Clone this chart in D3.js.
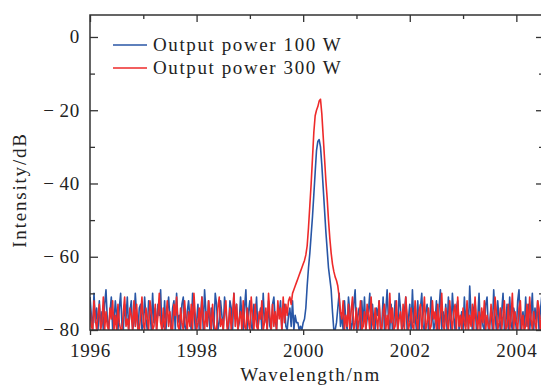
<!DOCTYPE html>
<html>
<head>
<meta charset="utf-8">
<script src="https://cdn.jsdelivr.net/npm/d3@7"></script>
<style>
    html, body { margin: 0; padding: 0; background: #fff; }
    svg { display: block; }
    text { font-family: "Liberation Serif", "Times New Roman", serif; fill: #222; }
</style>
</head>
<body>
<svg class="chart"></svg>
<script>
// spectrum sampled on a uniform wavelength grid (nm)
const startNm = 1996;
const stepNm = 0.025;

const seriesNames = [`Output power 100 W`, `Output power 300 W`];

// 100 W: noise floor, peak (1999.90 .. 2000.625), noise floor
const blueValues = [
    -71, -76, -80, -70, -78, -74, -80, -72, -79, -75,
    -80, -73, -69, -77, -80, -75, -71, -80, -78, -72,
    -76, -80, -74, -70, -79, -80, -73, -77, -71, -80,
    -75, -72, -80, -78, -70, -76, -80, -74, -73, -80,
    -79, -71, -77, -80, -72, -75, -80, -70, -78, -74,
    -80, -73, -76, -69, -80, -79, -72, -80, -75, -71,
    -77, -80, -74, -72, -80, -70, -78, -76, -80, -73,
    -71, -79, -80, -75, -72, -77, -80, -70, -74, -80,
    -78, -73, -80, -76, -71, -80, -69, -75, -79, -72,
    -80, -74, -77, -80, -70, -73, -80, -78, -72, -76,
    -80, -71, -75, -79, -80, -72, -74, -80, -70, -77,
    -73, -80, -78, -71, -76, -80, -74, -69, -80, -75,
    -72, -79, -80, -73, -77, -71, -80, -76, -74, -80,
    -70, -78, -75, -80, -72, -79, -80, -73, -71, -77,
    -80, -74, -76, -72, -80, -75, -73, -79, -80, -76,
    -74, -79, -72, -80, -76, -78,
    -78, -80, -79, -80, -78, -77, -74, -68, -63, -59,
    -54, -49, -43, -37, -31, -28.5, -28, -30, -35, -41,
    -47, -53, -58, -63, -66, -69, -75, -80, -80, -78,
    -74, -70, -79, -76, -80, -72, -77, -80, -71, -75,
    -80, -78, -73, -69, -80, -76, -74, -80, -72, -79,
    -71, -80, -77, -75, -70, -80, -73, -78, -80, -74,
    -76, -72, -80, -79, -71, -80, -75, -69, -77, -80,
    -73, -80, -78, -72, -76, -80, -70, -74, -80, -79,
    -75, -71, -80, -77, -73, -80, -69, -78, -76, -80,
    -72, -80, -74, -70, -79, -80, -75, -73, -80, -77,
    -71, -76, -80, -78, -72, -80, -74, -69, -80, -75,
    -79, -73, -80, -71, -77, -80, -70, -76, -80, -74,
    -72, -80, -78, -75, -80, -71, -79, -73, -80, -68,
    -76, -80, -74, -72, -80, -77, -70, -80, -75, -79,
    -80, -73, -71, -80, -78, -74, -80, -69, -76, -80,
    -72, -77, -80, -75, -70, -80, -79, -73, -80, -71,
    -78, -80, -74, -76, -80, -72, -69, -80, -77, -75,
    -80, -71, -79, -73, -80, -76, -70, -80, -74, -78,
    -72, -80, -75, -71, -77
];

// 300 W: noise floor, peak (1999.80 .. 2000.70), noise floor
const redValues = [
    -74, -79, -80, -72, -77, -80, -76, -73, -80, -78,
    -71, -80, -75, -79, -80, -74, -77, -72, -80, -76,
    -80, -73, -78, -80, -80, -75, -71, -79, -77, -80,
    -74, -76, -80, -72, -79, -73, -80, -80, -76, -71,
    -78, -80, -74, -77, -80, -72, -75, -80, -79, -73,
    -80, -76, -70, -78, -80, -74, -80, -77, -72, -79,
    -75, -80, -80, -73, -76, -71, -79, -80, -74, -78,
    -80, -72, -77, -80, -75, -79, -73, -80, -70, -76,
    -80, -78, -74, -80, -71, -77, -80, -75, -79, -72,
    -76, -80, -73, -78, -80, -80, -74, -71, -79, -77,
    -80, -75, -72, -80, -78, -74, -80, -76, -70, -79,
    -73, -80, -77, -75, -80, -72, -79, -80, -74, -78,
    -80, -71, -76, -80, -73, -79, -80, -75, -77, -72,
    -80, -78, -74, -80, -70, -76, -80, -73, -79, -75,
    -80, -72, -77, -74, -80, -71, -78, -73, -76, -72,
    -71, -73,
    -70, -69, -68, -67, -66, -65, -64, -63, -62, -61,
    -59.5, -57, -52, -46, -40, -33, -26, -21.5, -20, -19,
    -17.5, -17, -21, -27, -33, -39, -44, -50, -55, -59,
    -62, -64, -65.5, -66.5, -68, -71, -75,
    -77, -72, -80, -76, -79, -73, -80, -75, -71, -80,
    -78, -74, -80, -77, -72, -80, -79, -75, -80, -73,
    -76, -80, -71, -78, -80, -74, -77, -80, -72, -79,
    -80, -75, -73, -80, -76, -80, -70, -78, -74, -80,
    -79, -72, -80, -77, -75, -80, -73, -80, -71, -76,
    -80, -78, -74, -79, -80, -72, -77, -80, -75, -73,
    -80, -76, -71, -80, -78, -74, -80, -79, -72, -77,
    -75, -80, -73, -80, -76, -70, -79, -80, -74, -78,
    -80, -72, -77, -80, -75, -73, -80, -71, -79, -76,
    -80, -74, -78, -80, -72, -80, -76, -79, -73, -80,
    -71, -77, -80, -75, -80, -74, -78, -72, -80, -76,
    -79, -80, -73, -77, -80, -71, -75, -80, -78, -74,
    -80, -76, -72, -80, -79, -73, -80, -77, -70, -80,
    -75, -78, -80, -74, -72, -80, -76, -80, -79, -73,
    -80, -71, -77, -80, -75, -78, -80, -72, -74, -80,
    -76, -79
];

const xMajorTicks = [1996, 1998, 2000, 2002, 2004];
const xMinorTicks = [1997, 1999, 2001, 2003];
const yMajorTicks = [0, -20, -40, -60, -80];
const yMinorTicks = [-10, -30, -50, -70];

const width = 541;
const height = 385;
const margin = { left: 90, top: 15, right: -2, bottom: 55 };

const colors = [`#2856a6`, `#ee2a2a`];
const axisColor = `#333`;

const x = d3.scaleLinear()
    .domain([1996, 2004.5])
    .range([margin.left, width - margin.right]);

const y = d3.scaleLinear()
    .domain([-80, 6])
    .range([height - margin.bottom, margin.top]);

const fmt = (v) => v < 0 ? `\u2212\u2009${Math.abs(v)}` : `${v}`;

const chart = d3.select(`.chart`)
    .attr(`width`, width)
    .attr(`height`, height);

chart.append(`defs`).append(`clipPath`)
    .attr(`id`, `plot-clip`)
    .append(`rect`)
    .attr(`x`, x.range()[0])
    .attr(`y`, y.range()[1])
    .attr(`width`, x.range()[1] - x.range()[0])
    .attr(`height`, y.range()[0] - y.range()[1]);

const toPoints = (values) => values.map((v, i) => [startNm + i * stepNm, v]);

const line = d3.line()
    .x(d => x(d[0]))
    .y(d => y(d[1]));

const plot = chart.append(`g`).attr(`clip-path`, `url(#plot-clip)`);

[blueValues, redValues].forEach((values, i) => {
    plot.append(`path`)
        .datum(toPoints(values))
        .attr(`fill`, `none`)
        .attr(`stroke`, colors[i])
        .attr(`stroke-width`, 1.6)
        .attr(`stroke-linejoin`, `round`)
        .attr(`d`, line);
});

// frame axes
const x0 = x.range()[0], x1 = x.range()[1];
const y0 = y.range()[0], y1 = y.range()[1];

const bottomAxis = d3.axisBottom(x).tickValues(xMajorTicks).tickSize(5).tickPadding(9).tickFormat(d3.format(`d`));
const bottomMinor = d3.axisBottom(x).tickValues(xMinorTicks).tickSize(3).tickFormat(``);
const topAxis = d3.axisBottom(x).tickValues(xMajorTicks).tickSize(7).tickFormat(``);
const topMinor = d3.axisBottom(x).tickValues(xMinorTicks).tickSize(4).tickFormat(``);
const leftAxis = d3.axisRight(y).tickValues(yMajorTicks).tickSize(8).tickFormat(``);
const leftMinor = d3.axisRight(y).tickValues(yMinorTicks).tickSize(5).tickFormat(``);
const rightAxis = d3.axisLeft(y).tickValues(yMajorTicks).tickSize(7).tickFormat(``);
const rightMinor = d3.axisLeft(y).tickValues(yMinorTicks).tickSize(4).tickFormat(``);

const axes = [
    [bottomAxis, `translate(0, ${y0})`],
    [bottomMinor, `translate(0, ${y0})`],
    [topAxis, `translate(0, ${y1})`],
    [topMinor, `translate(0, ${y1})`],
    [leftAxis, `translate(${x0}, 0)`],
    [leftMinor, `translate(${x0}, 0)`],
    [rightAxis, `translate(${x1}, 0)`],
    [rightMinor, `translate(${x1}, 0)`]
];

axes.forEach(([axis, tr]) => {
    const g = chart.append(`g`).attr(`transform`, tr).call(axis);
    g.select(`.domain`).remove();
    g.selectAll(`.tick line`).attr(`stroke`, axisColor).attr(`stroke-width`, 1.3);
    g.selectAll(`.tick text`)
        .attr(`font-family`, null)
        .attr(`font-size`, null)
        .style(`font-size`, `19px`)
        .style(`letter-spacing`, `0.8px`)
        .attr(`fill`, `#222`);
});

// y labels sit outside the left frame
chart.append(`g`)
    .selectAll(`text`)
    .data(yMajorTicks)
    .enter().append(`text`)
        .attr(`x`, x0 - 10)
        .attr(`y`, d => y(d))
        .attr(`dy`, `0.33em`)
        .attr(`text-anchor`, `end`)
        .style(`font-size`, `19px`)
        .style(`letter-spacing`, `0.8px`)
        .text(fmt);

chart.append(`rect`)
    .attr(`x`, x0)
    .attr(`y`, y1)
    .attr(`width`, x1 - x0)
    .attr(`height`, y0 - y1)
    .attr(`fill`, `none`)
    .attr(`stroke`, axisColor)
    .attr(`stroke-width`, 1.5);

// legend
const legend = chart.append(`g`);
seriesNames.forEach((name, i) => {
    const ly = 45 + i * 23;
    legend.append(`line`)
        .attr(`x1`, 113).attr(`x2`, 147)
        .attr(`y1`, ly).attr(`y2`, ly)
        .attr(`stroke`, colors[i])
        .attr(`stroke-width`, 1.4);
    legend.append(`text`)
        .attr(`x`, 153)
        .attr(`y`, ly)
        .attr(`dy`, `0.33em`)
        .style(`font-size`, `19px`)
        .style(`letter-spacing`, `1.6px`)
        .text(name);
});

// axis titles
chart.append(`text`)
    .attr(`x`, (x0 + 531) / 2)
    .attr(`y`, 381)
    .attr(`text-anchor`, `middle`)
    .style(`font-size`, `19px`)
    .style(`letter-spacing`, `1.6px`)
    .text(`Wavelength/nm`);

chart.append(`text`)
    .attr(`transform`, `translate(26, 190) rotate(-90)`)
    .attr(`text-anchor`, `middle`)
    .style(`font-size`, `19px`)
    .style(`letter-spacing`, `1.8px`)
    .text(`Intensity/dB`);
</script>
</body>
</html>
